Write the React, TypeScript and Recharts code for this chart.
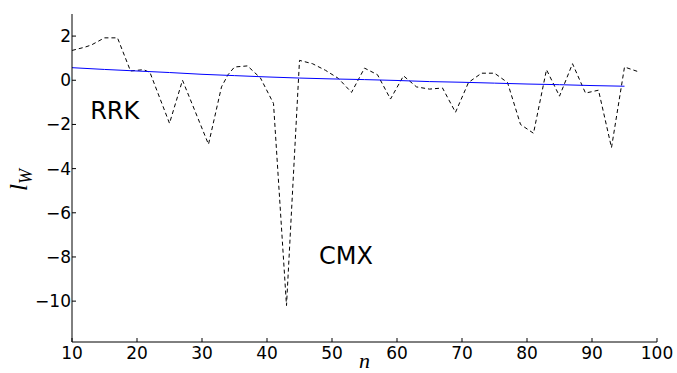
import { LineChart, Line, XAxis, YAxis, ReferenceDot } from "recharts";

// dashed series (black)
const dashN = [10, 12, 13, 15, 17, 19, 21, 22, 25, 27, 31, 33, 34, 35, 37, 39, 41, 43, 45, 47, 49, 51, 53, 55, 57, 59, 61, 63, 65, 67, 69, 71, 73, 75, 77, 79, 81, 83, 85, 87, 89, 91, 93, 95, 97];
const dashL = [1.35, 1.5, 1.6, 1.92, 1.92, 0.42, 0.48, 0.35, -1.95, 0.0, -2.9, -0.3, 0.25, 0.6, 0.65, 0.1, -1.05, -10.2, 0.9, 0.75, 0.45, 0.08, -0.55, 0.55, 0.25, -0.85, 0.2, -0.3, -0.4, -0.35, -1.45, -0.1, 0.32, 0.32, -0.1, -2.0, -2.4, 0.48, -0.72, 0.75, -0.58, -0.45, -3.05, 0.6, 0.4];

// fitted curve (blue)
const fitN = [10, 15, 20, 25, 30, 35, 40, 45, 50, 55, 60, 65, 70, 75, 80, 85, 90, 95];
const fitL = [0.57, 0.49, 0.42, 0.35, 0.27, 0.21, 0.15, 0.1, 0.06, 0.03, -0.01, -0.06, -0.09, -0.13, -0.17, -0.2, -0.24, -0.27];

const xTicks = [10, 20, 30, 40, 50, 60, 70, 80, 90, 100];
const yTicks = [2, 0, -2, -4, -6, -8, -10];

const notes = [
  { n: 12.8, l: -1.76, text: "RRK" },
  { n: 48, l: -8.34, text: "CMX" },
];

const dashData = dashN.map((n, i) => ({ n, l: dashL[i] }));
const fitData = fitN.map((n, i) => ({ n, l: fitL[i] }));

const FONT = "'DejaVu Sans', sans-serif";
const fmt = (v: number) => String(v).replace("-", "\u2212");

function BottomTick({ x, y, payload }: any) {
  return (
    <g>
      <line x1={x} y1={y} x2={x} y2={y - 4} stroke="#000" />
      <text x={x} y={y + 17} textAnchor="middle" fontSize={17} fontFamily={FONT} fill="#000">
        {fmt(payload.value)}
      </text>
    </g>
  );
}

function TopTick({ x, y }: any) {
  return <line x1={x} y1={y} x2={x} y2={y + 4} stroke="#000" />;
}

function LeftTick({ x, y, payload }: any) {
  return (
    <g>
      <line x1={x} y1={y} x2={x + 4} y2={y} stroke="#000" />
      <text x={x - 1} y={y + 6} textAnchor="end" fontSize={17} fontFamily={FONT} fill="#000">
        {fmt(payload.value)}
      </text>
    </g>
  );
}

function RightTick({ x, y }: any) {
  return <line x1={x} y1={y} x2={x - 4} y2={y} stroke="#000" />;
}

export default function App() {
  return (
    <div style={{ width: 677, height: 373 }}>
      <style>{"body{margin:0}"}</style>
      <LineChart width={677} height={373} margin={{ top: 14, right: 20, bottom: 0, left: 10 }}>
        <XAxis
          dataKey="n"
          type="number"
          domain={[10, 100]}
          ticks={xTicks}
          allowDataOverflow
          height={31}
          tickSize={0}
          tickMargin={0}
          tick={<BottomTick />}
          axisLine={{ stroke: "#000" }}
          label={{
            content: ({ viewBox }: any) => (
              <text
                x={viewBox.x + viewBox.width / 2}
                y={viewBox.y + 26}
                textAnchor="middle"
                fontSize={22}
                fontStyle="italic"
                fontFamily="'Liberation Serif', serif"
              >
                n
              </text>
            ),
          }}
        />
        <XAxis
          xAxisId="top"
          orientation="top"
          dataKey="n"
          type="number"
          domain={[10, 100]}
          ticks={xTicks}
          allowDataOverflow
          height={0}
          tickSize={0}
          tickMargin={0}
          tick={<TopTick />}
          axisLine={{ stroke: "#000" }}
        />
        <YAxis
          type="number"
          domain={[-11.85, 3]}
          ticks={yTicks}
          allowDataOverflow
          width={62}
          tickSize={0}
          tickMargin={0}
          tick={<LeftTick />}
          axisLine={{ stroke: "#000" }}
          label={{
            content: ({ viewBox }: any) => {
              const cx = 27;
              const cy = viewBox.y + viewBox.height / 2 + 2;
              return (
                <text
                  x={cx}
                  y={cy}
                  transform={`rotate(-90 ${cx} ${cy})`}
                  textAnchor="middle"
                  fontSize={25}
                  fontStyle="italic"
                  fontFamily="'Liberation Serif', serif"
                >
                  l
                  <tspan fontSize={18} dy={5}>
                    W
                  </tspan>
                </text>
              );
            },
          }}
        />
        <YAxis
          yAxisId="right"
          orientation="right"
          type="number"
          domain={[-11.85, 3]}
          ticks={yTicks}
          allowDataOverflow
          width={0}
          tickSize={0}
          tickMargin={0}
          tick={<RightTick />}
          axisLine={{ stroke: "#000" }}
        />
        <Line
          data={dashData}
          dataKey="l"
          type="linear"
          stroke="#000"
          strokeWidth={1}
          strokeDasharray="4 3"
          dot={false}
          activeDot={false}
          isAnimationActive={false}
        />
        <Line
          data={fitData}
          dataKey="l"
          type="linear"
          stroke="#0000ff"
          strokeWidth={1}
          dot={false}
          activeDot={false}
          isAnimationActive={false}
        />
        {notes.map((a) => (
          <ReferenceDot
            key={a.text}
            x={a.n}
            y={a.l}
            r={0}
            shape={(p: any) => (
              <text x={p.cx} y={p.cy} fontSize={24} fontFamily={FONT} fill="#000">
                {a.text}
              </text>
            )}
          />
        ))}
      </LineChart>
    </div>
  );
}
